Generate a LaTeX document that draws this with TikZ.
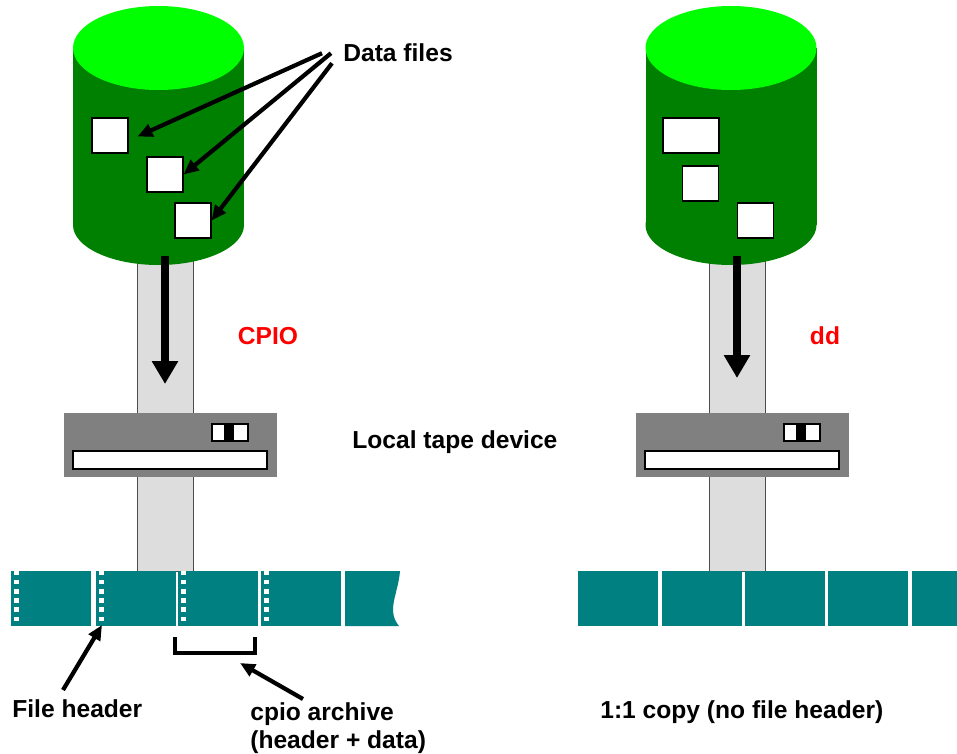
\documentclass[tikz,border=0pt]{standalone}
\usepackage{fontspec}
\setmainfont{Liberation Sans}
\usetikzlibrary{calc,arrows.meta}

\definecolor{drumtop}{RGB}{0,255,0}
\definecolor{drumside}{RGB}{0,128,0}
\definecolor{shaft}{RGB}{221,221,221}
\definecolor{devgray}{RGB}{128,128,128}
\definecolor{tapeteal}{RGB}{0,128,128}
\definecolor{cmdred}{RGB}{255,0,0}

\def\drum(#1){
	\fill[drumside] (#1-85.5,48) rectangle (#1+85.5,225);
	\fill[drumside] (#1,225) ellipse [x radius=85.5, y radius=40];
	\fill[drumtop] (#1,48) ellipse [x radius=85.5, y radius=42];
}
\def\tapedev(#1){
	\fill[devgray] (#1,413) rectangle (#1+213,477);
	\draw[fill=white, line width=0.7pt] (#1+9,451) rectangle (#1+203,469);
	\draw[fill=white, line width=0.7pt] (#1+148,424) rectangle (#1+184,441);
	\fill[black] (#1+160,424) rectangle (#1+170,441);
}

\tikzset{
	filebox/.style={draw=black, fill=white, line width=0.6pt, inner sep=0pt, minimum width=0.72cm, minimum height=0.7cm},
	lbl/.style={font=\bfseries\fontsize{14}{16}\selectfont, inner sep=0pt},
	ptr/.style={line width=2.4pt, -{Triangle[length=0.3cm, width=0.26cm]}},
	bigarrow/.style={line width=4.5pt, -{Triangle[length=0.46cm, width=0.5cm]}}
}

\begin{document}
\begin{tikzpicture}[x=0.02cm, y=-0.02cm]
			%%%%% START %%%%%
			\useasboundingbox (0,0) rectangle (957,754);
			
			% shafts down to the tape
			\draw[fill=shaft, draw=black!70, line width=0.5pt] (137,240) rectangle (193,571);
			\draw[fill=shaft, draw=black!70, line width=0.5pt] (709,240) rectangle (765,571);
			
			\drum(158.5)
			\drum(731)
			
			\node[filebox] (f1) at (110,135.5) {};
			\node[filebox] (f2) at (165,174.5) {};
			\node[filebox] (f3) at (193,220.5) {};
			
			\node[filebox, minimum width=1.12cm] (g1) at (691,135.5) {};
			\node[filebox] (g2) at (700.5,183.5) {};
			\node[filebox] (g3) at (755.5,220.5) {};
			
			\draw[bigarrow] (165,256) -- (165,384);
			\draw[bigarrow] (737,256) -- (737,378);
			
			\tapedev(64)
			\tapedev(636)
			
			% tape with file headers
			\foreach \x in {11,96,178,261} {
				\fill[tapeteal] (\x,571) rectangle (\x+80,626);
				\foreach \k in {0,...,5}
					\fill[white] (\x+3,571+9.1*\k) rectangle (\x+8,575.3+9.1*\k);
			}
			\fill[tapeteal] (345,571) -- (400,571) .. controls (398,595) and (386,610) .. (399,626) -- (345,626) -- cycle;
			
			% tape, plain copy
			\foreach \x in {578,662,745,828}
				\fill[tapeteal] (\x,571) rectangle (\x+80,626);
			\fill[tapeteal] (912,571) rectangle (957,626);
			
			\draw[line width=1.8pt] (175,637) -- (175,653) -- (255,653) -- (255,637);
			
			\node[lbl, anchor=base west] (datafiles) at (343,61) {Data files};
			\node[lbl, text=cmdred] (cpio) at (268,336) {CPIO};
			\node[lbl, text=cmdred] (dd) at (825,336) {dd};
			\node[lbl, anchor=base west] (tapedevice) at (352,448) {Local tape device};
			\node[lbl, anchor=north west] (fileheader) at (12,699) {File header};
			\node[lbl, anchor=north west, align=left] (cpioarch) at (250,702) {cpio archive\\(header + data)};
			\node[lbl, anchor=base west] (copy) at (600,718) {1:1 copy (no file header)};
			
			\coordinate (hdr) at (102,625);
			\coordinate (arch) at (240,663);
			
			\draw[ptr] ($(datafiles.west)+(-21,1)$) -- ($(f1.east)+(9,1)$);
			\draw[ptr] ($(datafiles.west)+(-12,1)$) -- (f2.east);
			\draw[ptr] ($(datafiles.west)+(-11,11)$) -- (f3.east);
			
			\draw[ptr] ($(fileheader.north west)+(51,-9)$) -- (hdr);
			\draw[ptr] ($(cpioarch.north west)+(53,-3)$) -- (arch);
			
			%%%%% END %%%%%
\end{tikzpicture}
\end{document}
